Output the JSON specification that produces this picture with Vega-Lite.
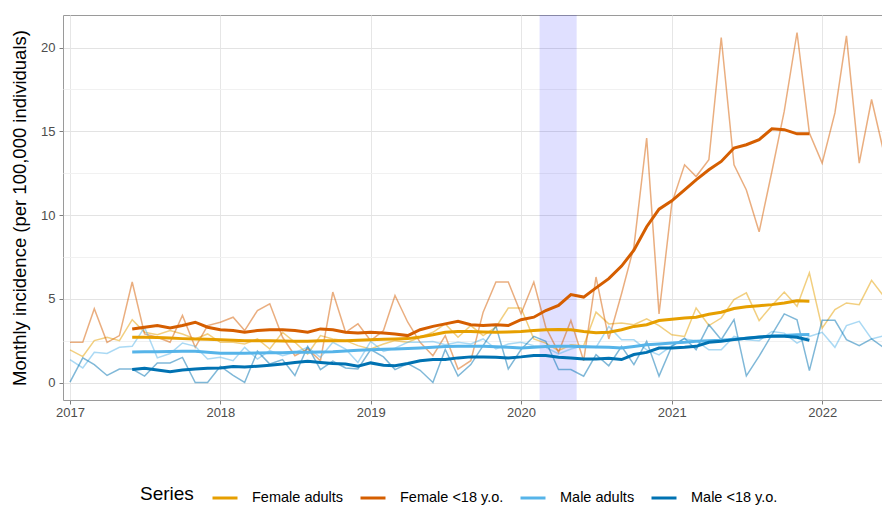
{
"$schema": "https://vega.github.io/schema/vega-lite/v6.json",
"width": 830, "height": 385,
"autosize": {"type": "none"},
"padding": {"left": 63, "top": 15, "right": 0, "bottom": 110},
"background": "white",
"config": {"font": "Liberation Sans", "view": {"stroke": "#9a9a9a", "strokeWidth": 1}},
"datasets": {"main": [
{"d":"2017-01-01","s":"Female adults","r":1.95},{"d":"2017-02-01","s":"Female adults","r":1.55},{"d":"2017-03-01","s":"Female adults","r":2.5},{"d":"2017-04-01","s":"Female adults","r":2.7},{"d":"2017-05-01","s":"Female adults","r":2.5},
{"d":"2017-06-01","s":"Female adults","r":3.75,"m":2.7},{"d":"2017-07-01","s":"Female adults","r":3.0,"m":2.7},{"d":"2017-08-01","s":"Female adults","r":2.85,"m":2.68},{"d":"2017-09-01","s":"Female adults","r":3.1,"m":2.65},{"d":"2017-10-01","s":"Female adults","r":2.9,"m":2.62},{"d":"2017-11-01","s":"Female adults","r":2.6,"m":2.6},{"d":"2017-12-01","s":"Female adults","r":2.9,"m":2.58},
{"d":"2018-01-01","s":"Female adults","r":2.4,"m":2.55},{"d":"2018-02-01","s":"Female adults","r":2.4,"m":2.52},{"d":"2018-03-01","s":"Female adults","r":2.3,"m":2.5},{"d":"2018-04-01","s":"Female adults","r":2.6,"m":2.5},{"d":"2018-05-01","s":"Female adults","r":2.0,"m":2.5},{"d":"2018-06-01","s":"Female adults","r":3.0,"m":2.48},{"d":"2018-07-01","s":"Female adults","r":2.4,"m":2.47},{"d":"2018-08-01","s":"Female adults","r":1.7,"m":2.46},{"d":"2018-09-01","s":"Female adults","r":2.8,"m":2.5},{"d":"2018-10-01","s":"Female adults","r":2.6,"m":2.5},{"d":"2018-11-01","s":"Female adults","r":2.5,"m":2.5},{"d":"2018-12-01","s":"Female adults","r":2.2,"m":2.52},
{"d":"2019-01-01","s":"Female adults","r":2.0,"m":2.55},{"d":"2019-02-01","s":"Female adults","r":2.3,"m":2.58},{"d":"2019-03-01","s":"Female adults","r":2.5,"m":2.6},{"d":"2019-04-01","s":"Female adults","r":2.4,"m":2.62},{"d":"2019-05-01","s":"Female adults","r":2.7,"m":2.72},{"d":"2019-06-01","s":"Female adults","r":3.0,"m":2.85},{"d":"2019-07-01","s":"Female adults","r":3.5,"m":3.0},{"d":"2019-08-01","s":"Female adults","r":2.7,"m":3.05},{"d":"2019-09-01","s":"Female adults","r":3.4,"m":3.05},{"d":"2019-10-01","s":"Female adults","r":2.8,"m":3.02},{"d":"2019-11-01","s":"Female adults","r":3.3,"m":3.0},{"d":"2019-12-01","s":"Female adults","r":4.45,"m":3.02},
{"d":"2020-01-01","s":"Female adults","r":4.45,"m":3.05},{"d":"2020-02-01","s":"Female adults","r":2.6,"m":3.1},{"d":"2020-03-01","s":"Female adults","r":2.35,"m":3.15},{"d":"2020-04-01","s":"Female adults","r":1.9,"m":3.17},{"d":"2020-05-01","s":"Female adults","r":2.25,"m":3.15},{"d":"2020-06-01","s":"Female adults","r":2.2,"m":3.05},{"d":"2020-07-01","s":"Female adults","r":4.2,"m":2.97},{"d":"2020-08-01","s":"Female adults","r":3.5,"m":3.0},{"d":"2020-09-01","s":"Female adults","r":3.55,"m":3.15},{"d":"2020-10-01","s":"Female adults","r":3.45,"m":3.35},{"d":"2020-11-01","s":"Female adults","r":3.8,"m":3.45},{"d":"2020-12-01","s":"Female adults","r":3.4,"m":3.7},
{"d":"2021-01-01","s":"Female adults","r":2.85,"m":3.78},{"d":"2021-02-01","s":"Female adults","r":2.75,"m":3.85},{"d":"2021-03-01","s":"Female adults","r":4.45,"m":3.9},{"d":"2021-04-01","s":"Female adults","r":3.4,"m":4.08},{"d":"2021-05-01","s":"Female adults","r":3.85,"m":4.2},{"d":"2021-06-01","s":"Female adults","r":4.95,"m":4.42},{"d":"2021-07-01","s":"Female adults","r":5.35,"m":4.52},{"d":"2021-08-01","s":"Female adults","r":3.7,"m":4.58},{"d":"2021-09-01","s":"Female adults","r":4.6,"m":4.65},{"d":"2021-10-01","s":"Female adults","r":5.4,"m":4.75},{"d":"2021-11-01","s":"Female adults","r":4.55,"m":4.88},{"d":"2021-12-01","s":"Female adults","r":6.55,"m":4.85},
{"d":"2022-01-01","s":"Female adults","r":3.25},{"d":"2022-02-01","s":"Female adults","r":4.35},{"d":"2022-03-01","s":"Female adults","r":4.75},{"d":"2022-04-01","s":"Female adults","r":4.65},{"d":"2022-05-01","s":"Female adults","r":6.1},{"d":"2022-06-01","s":"Female adults","r":5.1},

{"d":"2017-01-01","s":"Female <18 y.o.","r":2.4},{"d":"2017-02-01","s":"Female <18 y.o.","r":2.4},{"d":"2017-03-01","s":"Female <18 y.o.","r":4.4},{"d":"2017-04-01","s":"Female <18 y.o.","r":2.4},{"d":"2017-05-01","s":"Female <18 y.o.","r":2.8},
{"d":"2017-06-01","s":"Female <18 y.o.","r":6.0,"m":3.2},{"d":"2017-07-01","s":"Female <18 y.o.","r":2.9,"m":3.3},{"d":"2017-08-01","s":"Female <18 y.o.","r":2.7,"m":3.4},{"d":"2017-09-01","s":"Female <18 y.o.","r":2.4,"m":3.25},{"d":"2017-10-01","s":"Female <18 y.o.","r":4.0,"m":3.4},{"d":"2017-11-01","s":"Female <18 y.o.","r":2.1,"m":3.6},{"d":"2017-12-01","s":"Female <18 y.o.","r":3.4,"m":3.3},
{"d":"2018-01-01","s":"Female <18 y.o.","r":3.6,"m":3.15},{"d":"2018-02-01","s":"Female <18 y.o.","r":3.9,"m":3.1},{"d":"2018-03-01","s":"Female <18 y.o.","r":3.1,"m":3.0},{"d":"2018-04-01","s":"Female <18 y.o.","r":4.3,"m":3.1},{"d":"2018-05-01","s":"Female <18 y.o.","r":4.7,"m":3.15},{"d":"2018-06-01","s":"Female <18 y.o.","r":2.7,"m":3.15},{"d":"2018-07-01","s":"Female <18 y.o.","r":1.6,"m":3.1},{"d":"2018-08-01","s":"Female <18 y.o.","r":2.0,"m":3.0},{"d":"2018-09-01","s":"Female <18 y.o.","r":1.3,"m":3.2},{"d":"2018-10-01","s":"Female <18 y.o.","r":5.4,"m":3.15},{"d":"2018-11-01","s":"Female <18 y.o.","r":3.0,"m":3.0},{"d":"2018-12-01","s":"Female <18 y.o.","r":3.5,"m":2.95},
{"d":"2019-01-01","s":"Female <18 y.o.","r":2.5,"m":3.0},{"d":"2019-02-01","s":"Female <18 y.o.","r":3.1,"m":2.95},{"d":"2019-03-01","s":"Female <18 y.o.","r":5.2,"m":2.9},{"d":"2019-04-01","s":"Female <18 y.o.","r":3.6,"m":2.8},{"d":"2019-05-01","s":"Female <18 y.o.","r":2.4,"m":3.15},{"d":"2019-06-01","s":"Female <18 y.o.","r":1.6,"m":3.35},{"d":"2019-07-01","s":"Female <18 y.o.","r":2.8,"m":3.5},{"d":"2019-08-01","s":"Female <18 y.o.","r":0.8,"m":3.65},{"d":"2019-09-01","s":"Female <18 y.o.","r":1.3,"m":3.45},{"d":"2019-10-01","s":"Female <18 y.o.","r":4.2,"m":3.4},{"d":"2019-11-01","s":"Female <18 y.o.","r":6.0,"m":3.45},{"d":"2019-12-01","s":"Female <18 y.o.","r":6.0,"m":3.4},
{"d":"2020-01-01","s":"Female <18 y.o.","r":4.1,"m":3.75},{"d":"2020-02-01","s":"Female <18 y.o.","r":6.0,"m":3.9},{"d":"2020-03-01","s":"Female <18 y.o.","r":3.3,"m":4.3},{"d":"2020-04-01","s":"Female <18 y.o.","r":1.8,"m":4.6},{"d":"2020-05-01","s":"Female <18 y.o.","r":3.7,"m":5.25},{"d":"2020-06-01","s":"Female <18 y.o.","r":1.3,"m":5.1},{"d":"2020-07-01","s":"Female <18 y.o.","r":6.3,"m":5.65},{"d":"2020-08-01","s":"Female <18 y.o.","r":2.6,"m":6.2},{"d":"2020-09-01","s":"Female <18 y.o.","r":5.3,"m":6.95},{"d":"2020-10-01","s":"Female <18 y.o.","r":8.1,"m":7.9},{"d":"2020-11-01","s":"Female <18 y.o.","r":14.6,"m":9.3},{"d":"2020-12-01","s":"Female <18 y.o.","r":4.1,"m":10.35},
{"d":"2021-01-01","s":"Female <18 y.o.","r":10.7,"m":10.85},{"d":"2021-02-01","s":"Female <18 y.o.","r":13.0,"m":11.5},{"d":"2021-03-01","s":"Female <18 y.o.","r":12.3,"m":12.1},{"d":"2021-04-01","s":"Female <18 y.o.","r":13.3,"m":12.7},{"d":"2021-05-01","s":"Female <18 y.o.","r":20.6,"m":13.2},{"d":"2021-06-01","s":"Female <18 y.o.","r":13.0,"m":14.0},{"d":"2021-07-01","s":"Female <18 y.o.","r":11.5,"m":14.2},{"d":"2021-08-01","s":"Female <18 y.o.","r":9.0,"m":14.5},{"d":"2021-09-01","s":"Female <18 y.o.","r":12.6,"m":15.15},{"d":"2021-10-01","s":"Female <18 y.o.","r":16.2,"m":15.1},{"d":"2021-11-01","s":"Female <18 y.o.","r":20.9,"m":14.85},{"d":"2021-12-01","s":"Female <18 y.o.","r":14.9,"m":14.85},
{"d":"2022-01-01","s":"Female <18 y.o.","r":13.1},{"d":"2022-02-01","s":"Female <18 y.o.","r":16.1},{"d":"2022-03-01","s":"Female <18 y.o.","r":20.7},{"d":"2022-04-01","s":"Female <18 y.o.","r":13.1},{"d":"2022-05-01","s":"Female <18 y.o.","r":16.9},{"d":"2022-06-01","s":"Female <18 y.o.","r":13.6},

{"d":"2017-01-01","s":"Male adults","r":1.37},{"d":"2017-02-01","s":"Male adults","r":0.87},{"d":"2017-03-01","s":"Male adults","r":1.8},{"d":"2017-04-01","s":"Male adults","r":1.73},{"d":"2017-05-01","s":"Male adults","r":2.1},
{"d":"2017-06-01","s":"Male adults","r":2.16,"m":1.82},{"d":"2017-07-01","s":"Male adults","r":3.3,"m":1.83},{"d":"2017-08-01","s":"Male adults","r":1.47,"m":1.84},{"d":"2017-09-01","s":"Male adults","r":1.73,"m":1.85},{"d":"2017-10-01","s":"Male adults","r":2.36,"m":1.86},{"d":"2017-11-01","s":"Male adults","r":2.16,"m":1.86},{"d":"2017-12-01","s":"Male adults","r":1.4,"m":1.8},
{"d":"2018-01-01","s":"Male adults","r":1.5,"m":1.74},{"d":"2018-02-01","s":"Male adults","r":1.3,"m":1.74},{"d":"2018-03-01","s":"Male adults","r":2.1,"m":1.75},{"d":"2018-04-01","s":"Male adults","r":1.4,"m":1.76},{"d":"2018-05-01","s":"Male adults","r":1.9,"m":1.77},{"d":"2018-06-01","s":"Male adults","r":1.6,"m":1.78},{"d":"2018-07-01","s":"Male adults","r":1.8,"m":1.8},{"d":"2018-08-01","s":"Male adults","r":2.1,"m":1.8},{"d":"2018-09-01","s":"Male adults","r":1.5,"m":1.82},{"d":"2018-10-01","s":"Male adults","r":2.4,"m":1.84},{"d":"2018-11-01","s":"Male adults","r":2.0,"m":1.88},{"d":"2018-12-01","s":"Male adults","r":1.2,"m":1.92},
{"d":"2019-01-01","s":"Male adults","r":2.45,"m":1.96},{"d":"2019-02-01","s":"Male adults","r":1.85,"m":1.98},{"d":"2019-03-01","s":"Male adults","r":2.05,"m":2.0},{"d":"2019-04-01","s":"Male adults","r":2.4,"m":2.03},{"d":"2019-05-01","s":"Male adults","r":2.4,"m":2.06},{"d":"2019-06-01","s":"Male adults","r":2.45,"m":2.1},{"d":"2019-07-01","s":"Male adults","r":2.25,"m":2.15},{"d":"2019-08-01","s":"Male adults","r":2.4,"m":2.16},{"d":"2019-09-01","s":"Male adults","r":2.3,"m":2.16},{"d":"2019-10-01","s":"Male adults","r":2.6,"m":2.16},{"d":"2019-11-01","s":"Male adults","r":2.0,"m":2.14},{"d":"2019-12-01","s":"Male adults","r":2.3,"m":2.1},
{"d":"2020-01-01","s":"Male adults","r":2.4,"m":2.06},{"d":"2020-02-01","s":"Male adults","r":2.2,"m":2.1},{"d":"2020-03-01","s":"Male adults","r":2.1,"m":2.15},{"d":"2020-04-01","s":"Male adults","r":1.7,"m":2.16},{"d":"2020-05-01","s":"Male adults","r":2.0,"m":2.16},{"d":"2020-06-01","s":"Male adults","r":2.2,"m":2.14},{"d":"2020-07-01","s":"Male adults","r":2.1,"m":2.12},{"d":"2020-08-01","s":"Male adults","r":3.35,"m":2.1},{"d":"2020-09-01","s":"Male adults","r":2.55,"m":2.06},{"d":"2020-10-01","s":"Male adults","r":2.55,"m":2.15},{"d":"2020-11-01","s":"Male adults","r":1.95,"m":2.25},{"d":"2020-12-01","s":"Male adults","r":1.65,"m":2.3},
{"d":"2021-01-01","s":"Male adults","r":2.2,"m":2.36},{"d":"2021-02-01","s":"Male adults","r":2.6,"m":2.4},{"d":"2021-03-01","s":"Male adults","r":2.5,"m":2.46},{"d":"2021-04-01","s":"Male adults","r":1.95,"m":2.5},{"d":"2021-05-01","s":"Male adults","r":1.95,"m":2.52},{"d":"2021-06-01","s":"Male adults","r":2.75,"m":2.58},{"d":"2021-07-01","s":"Male adults","r":2.55,"m":2.64},{"d":"2021-08-01","s":"Male adults","r":2.5,"m":2.7},{"d":"2021-09-01","s":"Male adults","r":3.05,"m":2.77},{"d":"2021-10-01","s":"Male adults","r":2.95,"m":2.8},{"d":"2021-11-01","s":"Male adults","r":2.35,"m":2.85},{"d":"2021-12-01","s":"Male adults","r":2.75,"m":2.86},
{"d":"2022-01-01","s":"Male adults","r":3.0},{"d":"2022-02-01","s":"Male adults","r":2.1},{"d":"2022-03-01","s":"Male adults","r":3.4},{"d":"2022-04-01","s":"Male adults","r":3.65},{"d":"2022-05-01","s":"Male adults","r":2.6},{"d":"2022-06-01","s":"Male adults","r":2.8},

{"d":"2017-01-01","s":"Male <18 y.o.","r":0.02},{"d":"2017-02-01","s":"Male <18 y.o.","r":1.47},{"d":"2017-03-01","s":"Male <18 y.o.","r":1.07},{"d":"2017-04-01","s":"Male <18 y.o.","r":0.42},{"d":"2017-05-01","s":"Male <18 y.o.","r":0.8},
{"d":"2017-06-01","s":"Male <18 y.o.","r":0.8,"m":0.77},{"d":"2017-07-01","s":"Male <18 y.o.","r":0.38,"m":0.85},{"d":"2017-08-01","s":"Male <18 y.o.","r":1.17,"m":0.75},{"d":"2017-09-01","s":"Male <18 y.o.","r":1.17,"m":0.65},{"d":"2017-10-01","s":"Male <18 y.o.","r":1.5,"m":0.75},{"d":"2017-11-01","s":"Male <18 y.o.","r":0.0,"m":0.8},{"d":"2017-12-01","s":"Male <18 y.o.","r":0.0,"m":0.85},
{"d":"2018-01-01","s":"Male <18 y.o.","r":0.97,"m":0.87},{"d":"2018-02-01","s":"Male <18 y.o.","r":0.42,"m":0.95},{"d":"2018-03-01","s":"Male <18 y.o.","r":0.0,"m":0.92},{"d":"2018-04-01","s":"Male <18 y.o.","r":1.87,"m":0.97},{"d":"2018-05-01","s":"Male <18 y.o.","r":1.1,"m":1.03},{"d":"2018-06-01","s":"Male <18 y.o.","r":1.37,"m":1.1},{"d":"2018-07-01","s":"Male <18 y.o.","r":0.42,"m":1.2},{"d":"2018-08-01","s":"Male <18 y.o.","r":2.16,"m":1.27},{"d":"2018-09-01","s":"Male <18 y.o.","r":0.77,"m":1.2},{"d":"2018-10-01","s":"Male <18 y.o.","r":1.27,"m":1.13},{"d":"2018-11-01","s":"Male <18 y.o.","r":0.87,"m":1.1},{"d":"2018-12-01","s":"Male <18 y.o.","r":0.81,"m":0.97},
{"d":"2019-01-01","s":"Male <18 y.o.","r":1.97,"m":1.17},{"d":"2019-02-01","s":"Male <18 y.o.","r":1.53,"m":1.03},{"d":"2019-03-01","s":"Male <18 y.o.","r":0.77,"m":1.0},{"d":"2019-04-01","s":"Male <18 y.o.","r":1.13,"m":1.13},{"d":"2019-05-01","s":"Male <18 y.o.","r":0.73,"m":1.3},{"d":"2019-06-01","s":"Male <18 y.o.","r":0.0,"m":1.37},{"d":"2019-07-01","s":"Male <18 y.o.","r":1.97,"m":1.37},{"d":"2019-08-01","s":"Male <18 y.o.","r":0.38,"m":1.47},{"d":"2019-09-01","s":"Male <18 y.o.","r":1.07,"m":1.53},{"d":"2019-10-01","s":"Male <18 y.o.","r":2.2,"m":1.53},{"d":"2019-11-01","s":"Male <18 y.o.","r":3.37,"m":1.51},{"d":"2019-12-01","s":"Male <18 y.o.","r":0.81,"m":1.47},
{"d":"2020-01-01","s":"Male <18 y.o.","r":1.97,"m":1.53},{"d":"2020-02-01","s":"Male <18 y.o.","r":2.76,"m":1.61},{"d":"2020-03-01","s":"Male <18 y.o.","r":2.46,"m":1.61},{"d":"2020-04-01","s":"Male <18 y.o.","r":0.77,"m":1.51},{"d":"2020-05-01","s":"Male <18 y.o.","r":0.77,"m":1.47},{"d":"2020-06-01","s":"Male <18 y.o.","r":0.38,"m":1.41},{"d":"2020-07-01","s":"Male <18 y.o.","r":1.66,"m":1.41},{"d":"2020-08-01","s":"Male <18 y.o.","r":1.0,"m":1.45},{"d":"2020-09-01","s":"Male <18 y.o.","r":2.16,"m":1.37},{"d":"2020-10-01","s":"Male <18 y.o.","r":1.07,"m":1.67},{"d":"2020-11-01","s":"Male <18 y.o.","r":2.46,"m":1.8},{"d":"2020-12-01","s":"Male <18 y.o.","r":0.38,"m":2.06},
{"d":"2021-01-01","s":"Male <18 y.o.","r":2.16,"m":2.06},{"d":"2021-02-01","s":"Male <18 y.o.","r":2.65,"m":2.1},{"d":"2021-03-01","s":"Male <18 y.o.","r":1.96,"m":2.16},{"d":"2021-04-01","s":"Male <18 y.o.","r":3.45,"m":2.4},{"d":"2021-05-01","s":"Male <18 y.o.","r":2.56,"m":2.46},{"d":"2021-06-01","s":"Male <18 y.o.","r":3.75,"m":2.56},{"d":"2021-07-01","s":"Male <18 y.o.","r":0.4,"m":2.64},{"d":"2021-08-01","s":"Male <18 y.o.","r":1.57,"m":2.72},{"d":"2021-09-01","s":"Male <18 y.o.","r":2.86,"m":2.76},{"d":"2021-10-01","s":"Male <18 y.o.","r":4.1,"m":2.76},{"d":"2021-11-01","s":"Male <18 y.o.","r":3.75,"m":2.7},{"d":"2021-12-01","s":"Male <18 y.o.","r":0.71,"m":2.52},
{"d":"2022-01-01","s":"Male <18 y.o.","r":3.71},{"d":"2022-02-01","s":"Male <18 y.o.","r":3.71},{"d":"2022-03-01","s":"Male <18 y.o.","r":2.56},{"d":"2022-04-01","s":"Male <18 y.o.","r":2.2},{"d":"2022-05-01","s":"Male <18 y.o.","r":2.6},{"d":"2022-06-01","s":"Male <18 y.o.","r":2.06}
]},
"layer": [
{"data": {"values": [{"a": "2020-02-15", "b": "2020-05-15"}]},
 "mark": {"type": "rect", "color": "#0000ff", "opacity": 0.12},
 "encoding": {
  "x": {"field": "a", "type": "temporal",
   "scale": {"type": "utc", "domain": [{"year": 2016, "month": 12, "date": 15, "utc": true}, {"year": 2022, "month": 6, "date": 22, "utc": true}]},
   "axis": {"title": null, "format": "%Y", "formatType": "utc",
    "values": [{"year": 2017, "month": 1, "date": 1, "utc": true}, {"year": 2018, "month": 1, "date": 1, "utc": true}, {"year": 2019, "month": 1, "date": 1, "utc": true}, {"year": 2020, "month": 1, "date": 1, "utc": true}, {"year": 2021, "month": 1, "date": 1, "utc": true}, {"year": 2022, "month": 1, "date": 1, "utc": true}],
    "domain": false, "gridColor": "#e6e6e6", "tickColor": "#7f7f7f", "tickSize": 4, "labelFontSize": 13, "labelColor": "#4d4d4d", "labelPadding": 2}},
  "x2": {"field": "b"}
 }},
{"data": {"name": "main"},
 "mark": {"type": "line", "strokeWidth": 1.5, "opacity": 0.5, "clip": true},
 "encoding": {
  "x": {"field": "d", "type": "temporal"},
  "y": {"field": "r", "type": "quantitative",
   "scale": {"domain": [-1.045, 21.945], "nice": false, "zero": false},
   "axis": {"title": "Monthly incidence (per 100,000 individuals)", "values": [0, 2.5, 5, 7.5, 10, 12.5, 15, 17.5, 20],
    "labelExpr": "datum.value % 5 === 0 ? datum.label : ''",
    "gridColor": {"condition": {"test": "datum.value % 5 === 0", "value": "#e3e3e3"}, "value": "#f1f1f1"},
    "tickColor": {"condition": {"test": "datum.value % 5 === 0", "value": "#7f7f7f"}, "value": "transparent"},
    "domain": false, "tickSize": 4, "labelFontSize": 13, "labelColor": "#4d4d4d", "labelPadding": 4,
    "titleFontSize": 18.5, "titleFontWeight": "normal", "titleColor": "black", "titlePadding": 11}},
  "color": {"field": "s", "type": "nominal",
   "scale": {"domain": ["Female adults", "Female <18 y.o.", "Male adults", "Male <18 y.o."], "range": ["#E69F00", "#D55E00", "#56B4E9", "#0072B2"]},
   "legend": {"title": "Series", "orient": "none", "legendX": 77, "legendY": 469, "direction": "horizontal", "titleOrient": "left",
    "gridAlign": "none",
    "titleFontSize": 19, "titleFontWeight": "normal", "titleColor": "black", "titlePadding": 17,
    "labelFontSize": 14.5, "labelColor": "black", "symbolType": "stroke", "symbolSize": 625, "symbolStrokeWidth": 3, "symbolOpacity": 1,
    "labelOffset": 13, "columnPadding": 10}}
 }},
{"data": {"name": "main"},
 "transform": [{"filter": "isValid(datum.m)"}],
 "mark": {"type": "line", "strokeWidth": 3, "clip": true},
 "encoding": {
  "x": {"field": "d", "type": "temporal"},
  "y": {"field": "m", "type": "quantitative"},
  "color": {"field": "s", "type": "nominal"}
 }}
]
}
